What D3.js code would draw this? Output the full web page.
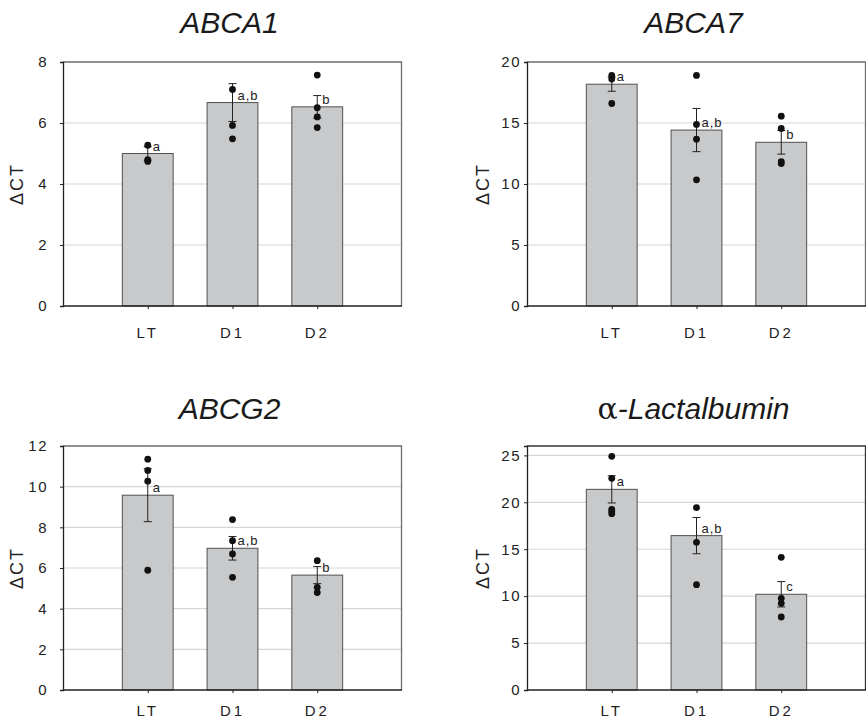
<!DOCTYPE html>
<html>
<head>
<meta charset="utf-8">
<script src="https://cdn.jsdelivr.net/npm/d3@7"></script>
<style>
  body { margin: 0; background: #fff; }
  svg { display: block; font-family: "Liberation Sans", Arial, Helvetica, sans-serif; }
</style>
</head>
<body>
<div id="chart"></div>
<script>
// groups on the x axis
const categories = ["LT", "D1", "D2"];

// panel titles
const genes = ["ABCA1", "ABCA7", "ABCG2", "α-Lactalbumin"];

// bar heights (mean ΔCT) per gene, in category order
const meansABCA1 = [5.0, 6.67, 6.53];
const meansABCA7 = [18.18, 14.42, 13.42];
const meansABCG2 = [9.58, 6.97, 5.65];
const meansLact = [21.38, 16.45, 10.2];

// error bar half-lengths (SEM)
const semABCA1 = [0.22, 0.62, 0.37];
const semABCA7 = [0.58, 1.77, 0.97];
const semABCG2 = [1.3, 0.58, 0.42];
const semLact = [1.45, 1.93, 1.35];

// individual samples
const dotsABCA1 = [[5.27, 4.8, 4.74], [7.1, 5.92, 5.48], [7.57, 6.5, 6.2, 5.85]];
const dotsABCA7 = [[18.9, 18.6, 16.6], [18.9, 14.88, 13.67, 10.34], [15.56, 14.55, 11.84, 11.68]];
const dotsABCG2 = [[11.35, 10.8, 10.27, 5.89], [8.38, 7.34, 6.69, 5.54], [6.36, 5.05, 4.79]];
const dotsLact = [[24.9, 22.56, 19.25, 19.04, 18.79], [19.43, 15.74, 11.22], [14.14, 9.77, 9.24, 7.78]];

// significance letters
const lettersABCA1 = ["a", "a,b", "b"];
const lettersABCA7 = ["a", "a,b", "b"];
const lettersABCG2 = ["a", "a,b", "b"];
const lettersLact = ["a", "a,b", "c"];

// y axis domains and tick lists
const yMax = [8, 20, 12, 26];
const yTicks = [[0, 2, 4, 6, 8], [0, 5, 10, 15, 20], [0, 2, 4, 6, 8, 10, 12], [0, 5, 10, 15, 20, 25]];

const means = [meansABCA1, meansABCA7, meansABCG2, meansLact];
const sems = [semABCA1, semABCA7, semABCG2, semLact];
const dots = [dotsABCA1, dotsABCA7, dotsABCG2, dotsLact];
const letters = [lettersABCA1, lettersABCA7, lettersABCG2, lettersLact];

const W = 866, H = 725;

// plot frames of the four panels
const frames = [
	{ x0: 63, x1: 402, y0: 62, y1: 306, labelGap: 15, titleY: 33, xLabelY: 338 },
	{ x0: 527, x1: 866, y0: 62, y1: 306, labelGap: 6, titleY: 33, xLabelY: 338 },
	{ x0: 63, x1: 402, y0: 446, y1: 690, labelGap: 15, titleY: 419, xLabelY: 716 },
	{ x0: 527, x1: 866, y0: 446, y1: 690, labelGap: 6, titleY: 419, xLabelY: 716 }
];

const svg = d3.select("#chart").append("svg")
	.attr("width", W)
	.attr("height", H);

frames.forEach((f, i) => {
	const g = svg.append("g");

	const x = d3.scalePoint().domain(categories).range([f.x0, f.x1]).padding(1);
	const y = d3.scaleLinear().domain([0, yMax[i]]).range([f.y1, f.y0]);
	const barW = x.step() * 0.6;

	// grid lines
	g.append("g").selectAll("line")
		.data(yTicks[i].filter(t => t > 0 && t < yMax[i]))
		.join("line")
		.attr("x1", f.x0).attr("x2", f.x1)
		.attr("y1", d => y(d)).attr("y2", d => y(d))
		.attr("stroke", "#d6d6d6")
		.attr("stroke-width", 1.2);

	// frame top and right
	g.append("path")
		.attr("d", `M${f.x0},${f.y0}H${f.x1 - 0.5}V${f.y1}`)
		.attr("fill", "none")
		.attr("stroke", i == 3 ? "#333" : "#6e6e6e")
		.attr("stroke-width", 1.3);

	// bars
	g.append("g").selectAll("rect")
		.data(categories)
		.join("rect")
		.attr("x", d => x(d) - barW / 2)
		.attr("width", barW)
		.attr("y", (d, j) => y(means[i][j]))
		.attr("height", (d, j) => y(0) - y(means[i][j]))
		.attr("fill", "#c8c9cb")
		.attr("stroke", "#505050")
		.attr("stroke-width", 1);

	// y axis
	const yAxis = d3.axisLeft(y).tickValues(yTicks[i]).tickSize(3).tickPadding(f.labelGap - 3);
	const ya = g.append("g").attr("transform", `translate(${f.x0},0)`).call(yAxis);
	ya.select(".domain").attr("stroke", "#222").attr("stroke-width", 1.3);
	ya.selectAll(".tick line").attr("stroke", "#222");
	ya.selectAll(".tick text")
		.attr("font-size", 15)
		.attr("letter-spacing", 1.5)
		.attr("font-family", null)
		.attr("fill", "#222");

	// x axis
	const xAxis = d3.axisBottom(x).tickSize(3).tickSizeOuter(0).tickFormat("");
	const xa = g.append("g").attr("transform", `translate(0,${f.y1})`).call(xAxis);
	xa.select(".domain").attr("d", `M${f.x0},0H${f.x1}`).attr("stroke", "#222").attr("stroke-width", 1.3);
	xa.selectAll(".tick line").attr("stroke", "#222");

	g.append("g").selectAll("text")
		.data(categories)
		.join("text")
		.attr("x", d => x(d))
		.attr("y", f.xLabelY)
		.attr("text-anchor", "middle")
		.attr("font-size", 15)
		.attr("letter-spacing", 3)
		.attr("fill", "#222")
		.text(d => d);

	// error bars
	const eg = g.append("g").attr("stroke", "#222").attr("stroke-width", 1);
	categories.forEach((c, j) => {
		const cx = x(c), hi = y(means[i][j] + sems[i][j]), lo = y(means[i][j] - sems[i][j]);
		eg.append("line").attr("x1", cx).attr("x2", cx).attr("y1", hi).attr("y2", lo);
		eg.append("line").attr("x1", cx - 4).attr("x2", cx + 4).attr("y1", hi).attr("y2", hi);
		eg.append("line").attr("x1", cx - 4).attr("x2", cx + 4).attr("y1", lo).attr("y2", lo);
	});

	// sample points
	categories.forEach((c, j) => {
		g.append("g").selectAll("circle")
			.data(dots[i][j])
			.join("circle")
			.attr("cx", x(c))
			.attr("cy", d => y(d))
			.attr("r", 3.4)
			.attr("fill", "#111");
	});

	// significance letters
	g.append("g").selectAll("text")
		.data(categories)
		.join("text")
		.attr("x", d => x(d) + 5)
		.attr("y", (d, j) => y(means[i][j]) - 3)
		.attr("font-size", 13)
		.attr("letter-spacing", 1)
		.attr("fill", "#222")
		.text((d, j) => letters[i][j]);

	// y label
	g.append("text")
		.attr("transform", `translate(${f.x0 - (i % 2 ? 38 : 40)},${(f.y0 + f.y1) / 2}) rotate(-90)`)
		.attr("text-anchor", "middle")
		.attr("font-size", 18)
		.attr("letter-spacing", 2)
		.attr("fill", "#222")
		.text("ΔCT");

	// title
	const title = g.append("text")
		.attr("x", (f.x0 + f.x1) / 2 - 3)
		.attr("y", f.titleY)
		.attr("text-anchor", "middle")
		.attr("font-size", 30)
		.attr("fill", "#1a1a1a");
	if (genes[i].startsWith("α-")) {
		title.append("tspan").attr("font-family", "'DejaVu Serif', 'Liberation Serif', serif").text("α");
		title.append("tspan").attr("font-style", "italic").text(genes[i].slice(1));
	} else {
		title.attr("font-style", "italic").text(genes[i]);
	}
});
</script>
</body>
</html>
